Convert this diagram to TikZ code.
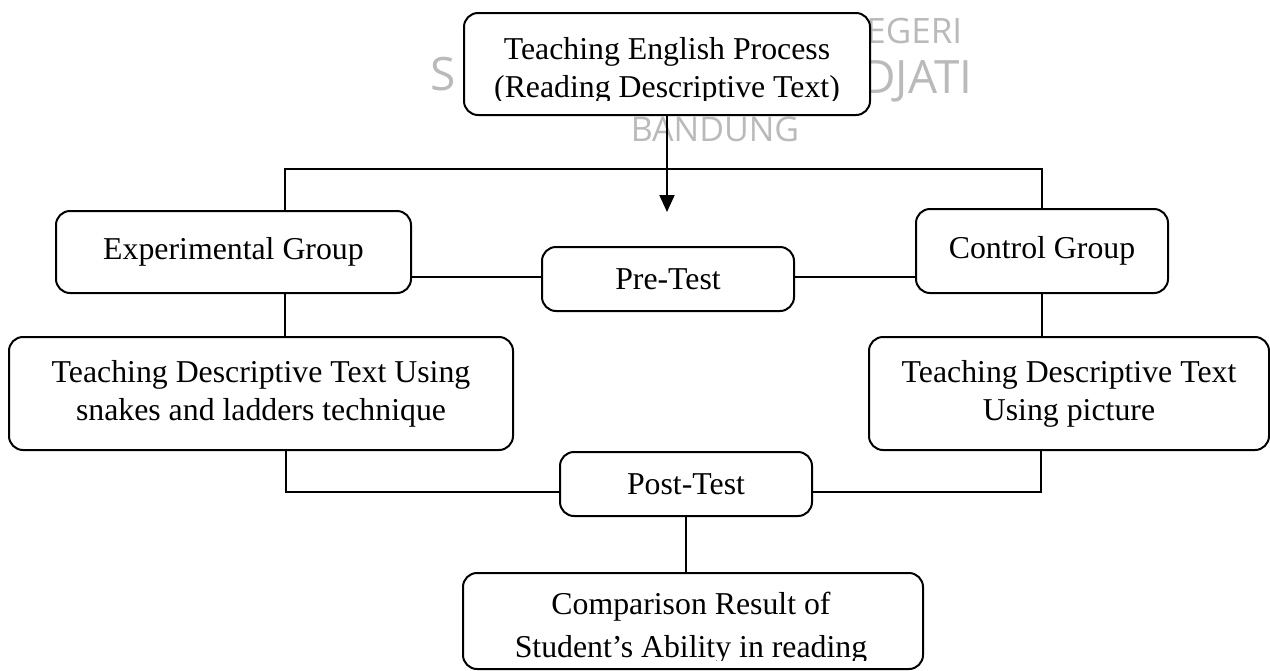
\documentclass[tikz,border=0pt]{standalone}
\usepackage{fontspec}
\setmainfont{Liberation Serif}
\newfontfamily\wmfont{Open Sans}
\usetikzlibrary{arrows.meta,positioning}

\tikzset{
    flowbox/.style={draw, line width=1pt, rounded corners=7pt, fill=white, inner sep=0pt,
        align=center, font=\fontsize{15.9pt}{19pt}\selectfont},
    boxtext/.style={inner sep=0pt, align=center, anchor=north},
    link/.style={line width=1pt},
    wmark/.style={text=black!27, inner sep=0pt, font=\wmfont\fontsize{#1}{#1}\selectfont}
}

\begin{document}
\begin{tikzpicture}[x=0.5pt, y=-0.5pt]
    \useasboundingbox (0,0) rectangle (1270,670);

    \node[wmark=17.5pt, anchor=base west] (wmTop) at (866,43) {EGERI};
    \node[wmark=23pt, anchor=base east] (wmLeft) at (456,90) {S};
    \node[wmark=23pt, anchor=base west] (wmRight) at (862,93) {DJATI};
    \node[wmark=17pt, anchor=base] (wmBottom) at (715,141) {BANDUNG};

    \node[flowbox, minimum width=203pt, minimum height=51pt] (proc) at (667,64) {};
    \begin{scope}
        \clip (464,13) rectangle (870,100);
        \node[boxtext, font=\fontsize{15.9pt}{19pt}\selectfont] (procText) at (667,37.3)
            {Teaching English Process\\(Reading Descriptive Text)};
    \end{scope}

    \node[flowbox, minimum width=177.5pt, minimum height=41pt] (exp) at (233.5,252) {Experimental Group};
    \node[flowbox, minimum width=126pt, minimum height=42pt] (ctrl) at (1042,251) {Control Group};
    \node[flowbox, minimum width=126pt, minimum height=32pt] (pre) at (668,279) {Pre-Test};
    \node[flowbox, minimum width=252pt, minimum height=56.5pt] (snake) at (261,393.5)
        {Teaching Descriptive Text Using\\snakes and ladders technique};
    \node[flowbox, minimum width=200pt, minimum height=56.5pt] (picture) at (1069,393.5)
        {Teaching Descriptive Text\\Using picture};
    \node[flowbox, minimum width=126pt, minimum height=32pt] (post) at (686,484) {Post-Test};

    \node[flowbox, minimum width=230pt, minimum height=48pt] (result) at (693,621) {};
    \begin{scope}
        \clip (463,573) rectangle (923,660);
        \node[boxtext, font=\fontsize{15.9pt}{21.5pt}\selectfont] (resultText) at (691,591.3)
            {Comparison Result of\\Student’s Ability in reading};
    \end{scope}

    \coordinate (split) at (667,169);
    \coordinate (arrowEnd) at (667,212);
    \draw[link, -{Triangle[width=7.5pt, length=8.5pt]}] (proc) -- (arrowEnd);
    \draw[link] ([xshift=25.75pt]exp.north) |- (split) -| (ctrl.north);
    \draw[link] ([yshift=1pt]pre.west) -- ([yshift=1pt]pre.west -| exp.east);
    \draw[link] ([yshift=1pt]pre.east) -- ([yshift=1pt]pre.east -| ctrl.west);
    \draw[link] ([xshift=25.75pt]exp.south) -- ([xshift=25.75pt]exp.south |- snake.north);
    \draw[link] (ctrl.south) -- (ctrl.south |- picture.north);
    \draw[link] ([xshift=12.5pt]snake.south) |- ([yshift=-4pt]post.west);
    \draw[link] ([xshift=-14pt]picture.south) |- ([yshift=-4pt]post.east);
    \draw[link] (post) -- (post |- result.north);
\end{tikzpicture}
\end{document}
